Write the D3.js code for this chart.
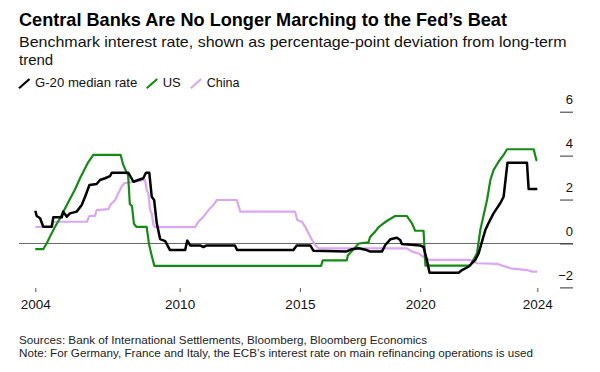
<!DOCTYPE html>
<html>
<head>
<meta charset="utf-8">
<script src="https://cdn.jsdelivr.net/npm/d3@7"></script>
<style>
  body { margin: 0; background: #fff; }
  svg text { font-family: "Liberation Sans", Arial, Helvetica, sans-serif; }
</style>
</head>
<body>
<svg id="chart" width="600" height="372"></svg>
<script>
// Series: decimal year + deviation from long-term trend (pct points)
var g20Years = [2004.0, 2004.06, 2004.2, 2004.33, 2004.68, 2004.75, 2005.1, 2005.16, 2005.31, 2005.44, 2005.72, 2005.93, 2006.07, 2006.25, 2006.55, 2006.69, 2006.9, 2007.11, 2007.18, 2007.87, 2008.08, 2008.28, 2008.49, 2008.6, 2008.74, 2008.84, 2008.94, 2009.05, 2009.19, 2009.4, 2009.6, 2010.23, 2010.32, 2010.44, 2010.85, 2010.99, 2011.13, 2012.3, 2012.39, 2014.73, 2014.87, 2015.43, 2015.56, 2016.95, 2017.16, 2017.44, 2017.78, 2017.92, 2018.41, 2018.55, 2018.76, 2019.03, 2019.17, 2019.24, 2020.0, 2020.14, 2020.28, 2020.39, 2021.6, 2021.74, 2022.01, 2022.15, 2022.29, 2022.43, 2022.57, 2022.71, 2022.84, 2023.05, 2023.33, 2023.47, 2023.63, 2024.44, 2024.51, 2024.87];
var g20Values = [1.49, 1.25, 1.15, 0.76, 0.76, 1.19, 1.19, 1.45, 1.22, 1.37, 1.45, 1.75, 2.13, 2.66, 2.71, 2.89, 2.97, 3.07, 3.22, 3.22, 2.81, 2.89, 2.97, 3.22, 3.22, 2.13, 1.98, 0.92, 0.2, 0.11, -0.3, -0.3, 0.13, -0.09, -0.09, -0.16, -0.09, -0.09, -0.3, -0.3, -0.09, -0.09, -0.33, -0.36, -0.26, -0.22, -0.3, -0.37, -0.37, -0.07, 0.19, 0.26, 0.16, -0.02, -0.09, -0.16, -0.75, -1.33, -1.33, -1.21, -1.06, -0.9, -0.75, -0.45, 0.08, 0.61, 0.92, 1.37, 1.83, 2.13, 3.68, 3.68, 2.48, 2.48];

var usYears = [2004.0, 2004.33, 2004.47, 2004.68, 2004.82, 2005.03, 2005.24, 2005.44, 2005.65, 2005.86, 2006.07, 2006.21, 2006.41, 2007.55, 2007.65, 2007.78, 2007.86, 2007.93, 2008.02, 2008.1, 2008.2, 2008.63, 2008.73, 2008.85, 2008.95, 2015.88, 2015.95, 2016.95, 2016.99, 2017.2, 2017.45, 2017.85, 2017.92, 2018.13, 2018.27, 2018.48, 2018.68, 2018.96, 2019.45, 2019.66, 2019.79, 2020.14, 2020.22, 2022.08, 2022.36, 2022.5, 2022.64, 2022.78, 2022.92, 2023.05, 2023.26, 2023.47, 2023.61, 2024.72, 2024.83, 2024.87];
var usValues = [-0.26, -0.26, 0.0, 0.46, 0.76, 1.15, 1.6, 2.02, 2.46, 2.97, 3.42, 3.72, 4.03, 4.03, 3.6, 3.27, 3.1, 1.8, 1.7, 0.9, 0.76, 0.76, -0.05, -0.6, -1.02, -1.02, -0.77, -0.77, -0.55, -0.3, 0.0, 0.05, 0.3, 0.54, 0.74, 0.92, 1.07, 1.25, 1.25, 0.92, 0.58, 0.58, -1.01, -1.01, -0.45, 0.61, 1.3, 1.98, 2.89, 3.34, 3.72, 4.03, 4.29, 4.29, 3.8, 3.77];

var chinaYears = [2004.0, 2004.7, 2004.75, 2006.14, 2006.25, 2006.48, 2006.55, 2007.04, 2007.11, 2007.32, 2007.45, 2007.59, 2007.69, 2008.56, 2008.63, 2008.7, 2008.77, 2008.84, 2008.91, 2008.98, 2010.64, 2010.78, 2010.99, 2011.2, 2011.4, 2011.55, 2012.38, 2012.52, 2014.8, 2014.89, 2015.08, 2015.22, 2015.36, 2015.5, 2015.64, 2015.77, 2019.45, 2019.66, 2019.93, 2020.21, 2020.42, 2022.08, 2022.36, 2023.19, 2023.75, 2024.44, 2024.65, 2024.87];
var chinaValues = [0.75, 0.75, 0.99, 0.99, 1.25, 1.25, 1.52, 1.56, 1.75, 1.98, 2.28, 2.59, 2.74, 2.89, 2.44, 2.28, 1.52, 1.37, 0.84, 0.74, 0.74, 0.99, 1.22, 1.52, 1.75, 1.98, 1.98, 1.45, 1.45, 1.07, 0.99, 0.76, 0.46, 0.16, -0.07, -0.22, -0.22, -0.37, -0.45, -0.67, -0.75, -0.75, -0.9, -0.93, -1.13, -1.21, -1.28, -1.28];

var seriesNames = ["G-20 median rate", "US", "China"];
var seriesColors = ["#000000", "#148c14", "#d9a6f8"];

var xTickYears = [2004, 2010, 2015, 2020, 2024.87];
var xTickLabels = ["2004", "2010", "2015", "2020", "2024"];
var yTicks = [-2, 0, 2, 4, 6];

var svg = d3.select("#chart");

// fit a text element to a measured width from the reference
function fit(sel, w) {
    var cur = sel.node().getComputedTextLength();
    if (Math.abs(cur - w) > 1) {
        sel.attr("textLength", w).attr("lengthAdjust", "spacingAndGlyphs");
    }
    return sel;
}

// Header
fit(svg.append("text").attr("x", 19).attr("y", 25.7)
    .attr("font-size", 19).attr("font-weight", "bold").attr("fill", "#000")
    .text("Central Banks Are No Longer Marching to the Fed\u2019s Beat"), 488);
fit(svg.append("text").attr("x", 19).attr("y", 46.7)
    .attr("font-size", 15).attr("fill", "#111")
    .text("Benchmark interest rate, shown as percentage-point deviation from long-term"), 547.5);
svg.append("text").attr("x", 19).attr("y", 65)
    .attr("font-size", 15).attr("fill", "#111")
    .text("trend");

// Legend
var legendX = [19, 146.7, 190.7];
var legendW = [102.3, 17.7, 32.7];
var legend = svg.append("g");
seriesNames.forEach(function (name, i) {
    legend.append("line")
        .attr("x1", legendX[i]).attr("y1", 88.3)
        .attr("x2", legendX[i] + 10.5).attr("y2", 79)
        .attr("stroke", seriesColors[i]).attr("stroke-width", 2.2);
    fit(legend.append("text").attr("x", legendX[i] + 16).attr("y", 87.3)
        .attr("font-size", 13).attr("fill", "#111").text(name), legendW[i]);
});

// Scales
var x = d3.scaleLinear()
    .domain([2004, 2024.87])
    .range([35.3, 537.3]);
var y = d3.scaleLinear()
    .domain([-2, 6])
    .range([287.4, 111.7]);

// Zero line
svg.append("line")
    .attr("x1", 19).attr("x2", 573)
    .attr("y1", y(0)).attr("y2", y(0))
    .attr("stroke", "#666").attr("stroke-width", 1);

// Y axis on the right, labels sit above short tick lines
var yAxis = svg.append("g")
    .attr("transform", "translate(560,0)")
    .call(d3.axisRight(y).tickValues(yTicks).tickSize(13).tickFormat(d3.format("d")));
yAxis.select(".domain").remove();
yAxis.selectAll(".tick line").attr("stroke", "#333");
yAxis.selectAll(".tick text")
    .attr("x", 13).attr("y", -8).attr("dy", 0)
    .attr("text-anchor", "end")
    .attr("font-size", 13).attr("fill", "#111")
    .style("font-family", "'Liberation Sans', Arial, sans-serif");

// X axis
var xAxis = svg.append("g")
    .attr("transform", "translate(0,288)")
    .call(d3.axisBottom(x).tickValues(xTickYears).tickSize(4)
        .tickFormat(function (d, i) { return xTickLabels[i]; }));
xAxis.select(".domain").remove();
xAxis.selectAll(".tick line").attr("stroke", "#555");
xAxis.selectAll(".tick text")
    .attr("y", 11)
    .attr("font-size", 13.5).attr("fill", "#111")
    .style("font-family", "'Liberation Sans', Arial, sans-serif");

// Lines
var line = d3.line()
    .x(function (d) { return x(d[0]); })
    .y(function (d) { return y(d[1]); });

var series = [
    { years: chinaYears, values: chinaValues, color: seriesColors[2], w: 2.2 },
    { years: usYears, values: usValues, color: seriesColors[1], w: 2.2 },
    { years: g20Years, values: g20Values, color: seriesColors[0], w: 2.5 }
];
series.forEach(function (s) {
    svg.append("path")
        .datum(d3.zip(s.years, s.values))
        .attr("d", line)
        .attr("fill", "none")
        .attr("stroke", s.color)
        .attr("stroke-width", s.w)
        .attr("stroke-linejoin", "round");
});

// Footer
fit(svg.append("text").attr("x", 19).attr("y", 344.3)
    .attr("font-size", 11.5).attr("fill", "#222")
    .text("Sources: Bank of International Settlements, Bloomberg, Bloomberg Economics"), 408);
fit(svg.append("text").attr("x", 19).attr("y", 357.3)
    .attr("font-size", 11.5).attr("fill", "#222")
    .text("Note: For Germany, France and Italy, the ECB\u2019s interest rate on main refinancing operations is used"), 514);
</script>
</body>
</html>
